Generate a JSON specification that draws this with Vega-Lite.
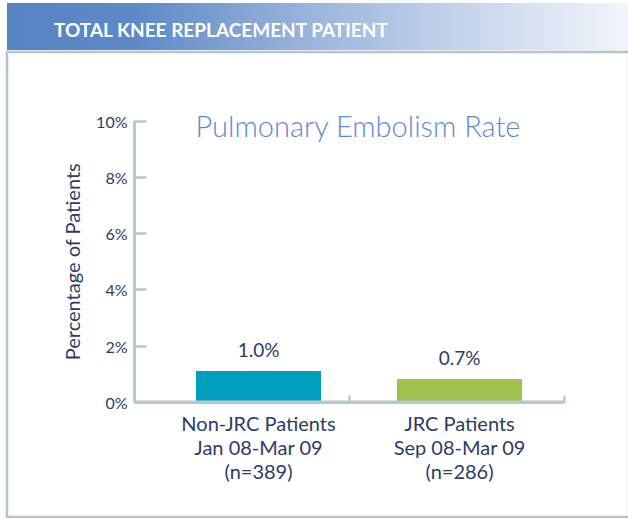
{
  "$schema": "https://vega.github.io/schema/vega-lite/v6.json",
  "background": "white",
  "padding": {"left": 5, "top": 3, "right": 1, "bottom": 2},
  "spacing": 0,
  "config": {"font": "Lato", "concat": {"spacing": 0}},
  "vconcat": [
    {
      "width": 622,
      "height": 47,
      "data": {"values": [{"header": "TOTAL KNEE REPLACEMENT PATIENT"}]},
      "view": {"stroke": null},
      "layer": [
        {
          "mark": {
            "type": "rect",
            "fill": {
              "gradient": "linear",
              "x1": 0, "y1": 0, "x2": 1, "y2": 0,
              "stops": [
                {"offset": 0, "color": "#5783c4"},
                {"offset": 0.2, "color": "#5d89c8"},
                {"offset": 0.5, "color": "#9db6dc"},
                {"offset": 0.75, "color": "#c8d6ec"},
                {"offset": 1, "color": "#f2f5fb"}
              ]
            }
          },
          "encoding": {}
        },
        {
          "mark": {"type": "text", "align": "left", "baseline": "alphabetic", "dx": -264, "dy": 10, "font": "Lato", "fontWeight": "bold", "fontSize": 19, "color": "white"},
          "encoding": {"text": {"field": "header"}}
        }
      ]
    },
    {
      "width": 622,
      "height": 465,
      "view": {"stroke": "#b5c3d1", "strokeWidth": 2.5},
      "title": {
        "text": "Pulmonary Embolism Rate",
        "anchor": "middle",
        "frame": "group",
        "offset": -114,
        "baseline": "alphabetic",
        "dx": 40,
        "fontSize": 29,
        "fontWeight": 300,
        "font": "Lato",
        "color": "#5c8bcf"
      },
      "data": {"values": [
        {"group": "Non-JRC Patients|Jan 08-Mar 09|(n=389)", "rate": 1.1, "label": "1.0%"},
        {"group": "JRC Patients|Sep 08-Mar 09|(n=286)", "rate": 0.82, "label": "0.7%"}
      ]},
      "layer": [
        {
          "mark": {"type": "bar"},
          "encoding": {
            "x": {
              "field": "group", "type": "nominal", "sort": null,
              "scale": {"range": [151, 553], "paddingInner": 0.378, "paddingOuter": 0.189},
              "axis": {"orient": "bottom", "offset": -115, "title": null, "domain": false, "ticks": false, "labelAngle": 0,
                "labelExpr": "split(datum.label, '|')", "labelFontSize": 20, "labelColor": "#2c3c66", "labelLineHeight": 24,
                "labelPadding": 12, "labelBaseline": "top", "labelFont": "Lato"}
            },
            "y": {
              "field": "rate", "type": "quantitative",
              "scale": {"domain": [0, 10], "range": [350, 68.5]},
              "axis": {"orient": "left", "offset": -127, "values": [0, 2, 4, 6, 8, 10], "labelExpr": "datum.value + '%'", "grid": false,
                "domainColor": "#b6c9ce", "domainWidth": 3, "tickColor": "#b6c9ce", "tickWidth": 2.5, "tickSize": -12,
                "labelPadding": 19, "labelFontSize": 16, "labelColor": "#2c3c66", "labelFont": "Lato", "labelBaseline": "middle", "labelOffset": 1.5,
                "title": "Percentage of Patients", "titleFontSize": 20, "titleFontWeight": "normal", "titleColor": "#2c3c66", "titleFont": "Lato", "titlePadding": 12}
            },
            "color": {"field": "group", "type": "nominal", "sort": null, "scale": {"range": ["#009fc0", "#a1c14e"]}, "legend": null}
          }
        },
        {
          "mark": {"type": "text", "baseline": "alphabetic", "dy": -14, "fontSize": 19, "font": "Lato", "color": "#2c3c66"},
          "encoding": {
            "x": {"field": "group", "type": "nominal", "sort": null, "scale": {"range": [151, 553], "paddingInner": 0.378, "paddingOuter": 0.189}, "axis": null},
            "y": {"field": "rate", "type": "quantitative"},
            "text": {"field": "label"}
          }
        },
        {
          "data": {"values": [{"base": 0}]},
          "mark": {"type": "rule", "color": "#b6c9ce", "strokeWidth": 3},
          "encoding": {
            "x": {"datum": 0, "type": "quantitative", "scale": {"domain": [0, 2], "range": [127, 557]},
              "axis": {"orient": "bottom", "offset": -115, "values": [1, 2], "labels": false, "title": null, "grid": false,
                "domainColor": "#b6c9ce", "domainWidth": 3, "tickColor": "#b6c9ce", "tickWidth": 2.5, "tickSize": -7}},
            "x2": {"datum": 2},
            "y": {"field": "base", "type": "quantitative"}
          }
        }
      ],
      "resolve": {"scale": {"x": "independent"}, "axis": {"x": "independent"}}
    }
  ]
}
